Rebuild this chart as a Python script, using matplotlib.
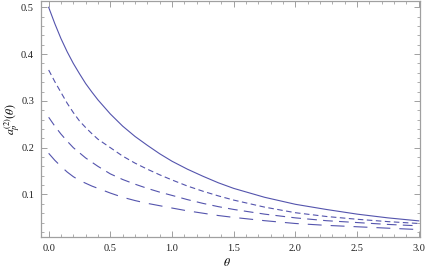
import matplotlib
matplotlib.use("Agg")
import matplotlib.pyplot as plt
from matplotlib.ticker import MultipleLocator, FormatStrFormatter

plt.rcParams['font.family'] = ['Liberation Serif', 'DejaVu Serif']
plt.rcParams['mathtext.fontset'] = 'stix'
plt.rcParams['lines.scale_dashes'] = False

# values
theta = [0.0, 0.05, 0.1, 0.15, 0.2, 0.25, 0.3, 0.35, 0.4, 0.5, 0.6, 0.7, 0.8, 0.9,
         1.0, 1.125, 1.25, 1.375, 1.5, 1.75, 2.0, 2.25, 2.5, 2.75, 3.0]
a_solid = [0.500, 0.465, 0.433, 0.405, 0.380, 0.358, 0.337, 0.319, 0.302, 0.272, 0.246,
           0.224, 0.205, 0.187, 0.171, 0.154, 0.139, 0.125, 0.113, 0.094, 0.079, 0.068,
           0.058, 0.050, 0.0436]
a_short = [0.366, 0.341, 0.318, 0.295, 0.275, 0.257, 0.243, 0.230, 0.218, 0.200, 0.182,
           0.167, 0.154, 0.142, 0.131, 0.118, 0.107, 0.097, 0.088, 0.073, 0.061, 0.053,
           0.047, 0.042, 0.038]
a_medium = [0.265, 0.246, 0.229, 0.214, 0.200, 0.189, 0.178, 0.169, 0.160, 0.144, 0.132,
            0.122, 0.113, 0.105, 0.098, 0.089, 0.081, 0.074, 0.068, 0.058, 0.050, 0.044,
            0.040, 0.036, 0.033]
a_long = [0.188, 0.173, 0.160, 0.148, 0.138, 0.130, 0.124, 0.118, 0.113, 0.103, 0.094,
          0.087, 0.081, 0.076, 0.071, 0.065, 0.060, 0.055, 0.051, 0.044, 0.038, 0.034,
          0.031, 0.028, 0.025]

col = (0.33, 0.33, 0.68)
fig = plt.figure(figsize=(4.25, 2.72), dpi=100)
ax = fig.add_axes([0.0965, 0.1276, 0.8915, 0.8705])

ax.plot(theta, a_solid, color=col, lw=0.8)
ax.plot(theta, a_short, color=col, lw=0.8, dashes=(4, 2.5))
ax.plot(theta, a_medium, color=col, lw=0.8, dashes=(7, 4.5))
ax.plot(theta, a_long, color=col, lw=0.8, dashes=(10, 6.5))

ax.set_xlim(-0.062, 3.009)
ax.set_ylim(0.0085, 0.5145)
ax.xaxis.set_major_locator(MultipleLocator(0.5))
ax.xaxis.set_minor_locator(MultipleLocator(0.1))
ax.yaxis.set_major_locator(MultipleLocator(0.1))
ax.yaxis.set_minor_locator(MultipleLocator(0.02))
ax.xaxis.set_major_formatter(FormatStrFormatter('%.1f'))
ax.yaxis.set_major_formatter(FormatStrFormatter('%.1f'))

fc = '#a0a0a0'
for s in ax.spines.values():
    s.set_color(fc)
    s.set_linewidth(0.9)
ax.tick_params(which='both', direction='in', top=True, right=True, color=fc,
               labelsize=7.5, labelcolor='#222222')
ax.tick_params(which='major', length=4, width=0.7, pad=5)
ax.tick_params(which='minor', length=2.2, width=0.6)

ax.set_xlabel(r'$\theta$', fontsize=8.5)
ax.set_ylabel(r'$a_p^{(2)}(\theta)$', fontsize=8.5)
ax.xaxis.set_label_coords(0.49, -0.085)
ax.yaxis.set_label_coords(-0.05, 0.5)

fig.savefig('out.png', dpi=100)
